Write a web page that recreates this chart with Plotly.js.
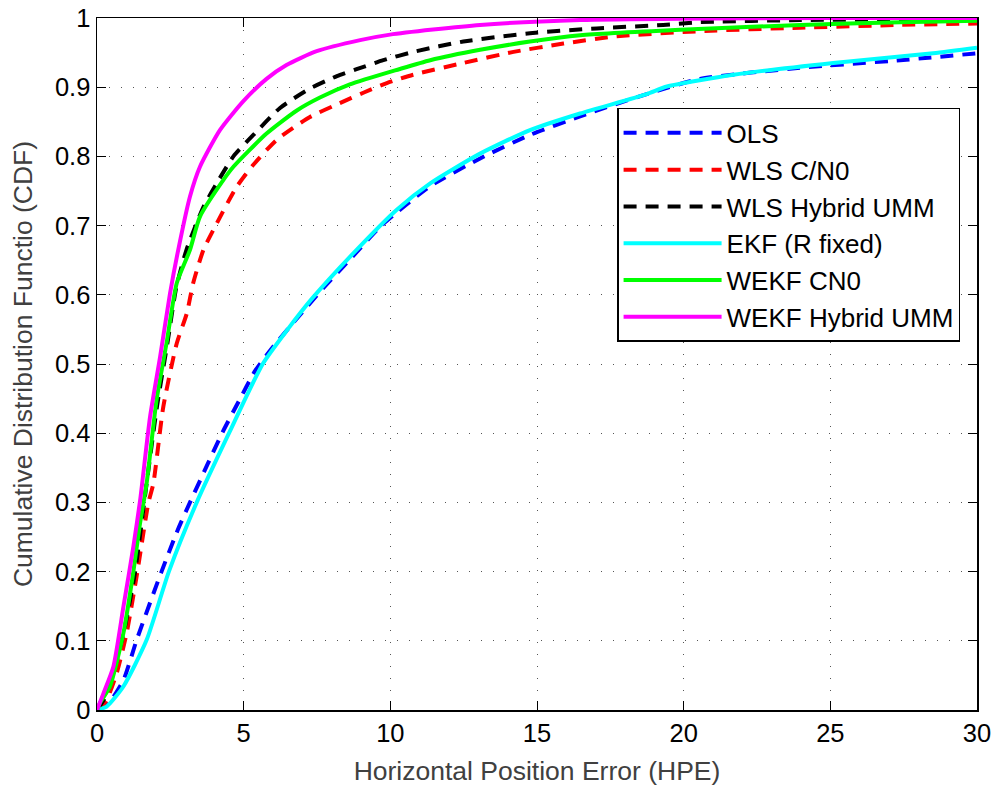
<!DOCTYPE html>
<html>
<head>
<meta charset="utf-8">
<script src="https://cdn.plot.ly/plotly-3.0.1.min.js"></script>
<style>html,body{margin:0;padding:0;background:#fff;}#chart{width:995px;height:787px;}</style>
</head>
<body>
<div id="chart"></div>
<script>
// Series names
const names = ["OLS", "WLS C/N0", "WLS Hybrid UMM", "EKF (R fixed)", "WEKF CN0", "WEKF Hybrid UMM"];

// OLS
const olsX = [0,0.4,0.9,1.35,2.2,2.77,3.17,3.79,4.3,4.82,5.39,5.95,6.8,7.72,8.6,9.7,11.36,13.06,14.76,16.47,18.74,20.56,23.97,27.38,30];
const olsY = [0,0.01,0.043,0.101,0.2,0.262,0.3,0.357,0.403,0.445,0.49,0.522,0.565,0.61,0.65,0.7,0.757,0.797,0.831,0.858,0.89,0.912,0.928,0.939,0.949];

// WLS C/N0
const wlsCnX = [0,0.3,0.67,1.01,1.35,1.75,1.92,2.26,2.72,3.06,3.28,3.63,4.08,4.76,5.33,6.13,7.26,8.28,9.08,9.88,10.78,12.49,14.2,15.9,17.6,20.56,23.97,27.38,30];
const wlsCnY = [0,0.012,0.053,0.111,0.193,0.299,0.327,0.438,0.53,0.573,0.617,0.665,0.703,0.756,0.788,0.824,0.857,0.877,0.892,0.906,0.918,0.935,0.951,0.963,0.973,0.981,0.986,0.99,0.992];

// WLS Hybrid UMM
const wlsHyX = [0,0.3,0.6,0.95,1.3,1.7,2.05,2.4,2.7,3.05,3.63,4.08,4.65,5.33,6.24,7.26,8.18,8.85,9.76,10.78,12.49,14.76,17.04,19.3,20.56,23.97,27.4,30];
const wlsHyY = [0,0.02,0.06,0.12,0.2,0.33,0.44,0.53,0.61,0.665,0.727,0.761,0.8,0.831,0.87,0.898,0.916,0.926,0.939,0.951,0.966,0.978,0.985,0.99,0.994,0.997,0.998,0.999];

// EKF (R fixed)
const ekfX = [0,0.33,0.9,1.69,2.45,3.4,4.5,5.65,6.5,7.3,8.85,10.22,11.36,13.06,14.76,16.47,18.74,19.43,21.7,25.1,28.5,30];
const ekfY = [0,0.005,0.034,0.101,0.2,0.3,0.4,0.5,0.55,0.593,0.665,0.723,0.761,0.804,0.838,0.862,0.89,0.901,0.918,0.935,0.949,0.957];

// WEKF CN0
const wekfCnX = [0,0.1,0.44,0.9,1.24,1.45,1.69,2.03,2.37,2.72,3.17,3.51,4.31,4.65,5.78,6.8,7.6,8.62,10.3,11.36,13.06,14.76,16.47,19.88,23.97,27.38,30];
const wekfCnY = [0,0.01,0.034,0.111,0.2,0.265,0.327,0.448,0.53,0.617,0.665,0.713,0.766,0.785,0.833,0.866,0.885,0.904,0.926,0.939,0.954,0.966,0.975,0.983,0.99,0.994,0.996];

// WEKF Hybrid UMM
const wekfHyX = [0,0.22,0.56,0.9,1.24,1.47,1.81,2.15,2.49,2.77,3.17,3.51,4.19,4.99,5.78,6.46,7.49,8.97,9.99,13.06,16.47,19.88,25,30];
const wekfHyY = [0,0.024,0.063,0.149,0.236,0.303,0.424,0.51,0.602,0.665,0.742,0.785,0.838,0.88,0.912,0.932,0.952,0.968,0.976,0.99,0.997,0.999,1,1];

const xTicks = [0,5,10,15,20,25,30];
const yTicks = [0,0.1,0.2,0.3,0.4,0.5,0.6,0.7,0.8,0.9,1];
const yTickText = ["0","0.1","0.2","0.3","0.4","0.5","0.6","0.7","0.8","0.9","1"];

const FONT = "Liberation Sans, Arial, Helvetica, sans-serif";
const dashPat = "13px,9px";
function tr(x, y, name, color, dash) {
  return {x: x, y: y, name: name, type: "scatter", mode: "lines",
          line: {color: color, width: 4, dash: dash, shape: "spline", smoothing: 0.6}};
}
const data = [
  tr(olsX, olsY, names[0], "#0000ff", dashPat),
  tr(wlsCnX, wlsCnY, names[1], "#ff0000", dashPat),
  tr(wlsHyX, wlsHyY, names[2], "#000000", dashPat),
  tr(ekfX, ekfY, names[3], "#00ffff", "solid"),
  tr(wekfCnX, wekfCnY, names[4], "#00ff00", "solid"),
  tr(wekfHyX, wekfHyY, names[5], "#ff00ff", "solid")
];

const axisCommon = {
  showline: true, linecolor: "#000", linewidth: 1.5, mirror: "allticks",
  ticks: "inside", ticklen: 9, tickwidth: 1, tickcolor: "#000",
  showgrid: true, gridcolor: "#555", gridwidth: 1, griddash: "1px,11px",
  zeroline: false,
  tickfont: {family: FONT, size: 25.5, color: "#000"}
};

const layout = {
  width: 995, height: 787,
  margin: {l: 97, r: 18, t: 18, b: 77},
  paper_bgcolor: "#fff", plot_bgcolor: "#fff",
  showlegend: true,
  xaxis: Object.assign({}, axisCommon, {
    range: [0, 30], tickvals: xTicks, ticktext: xTicks.map(String),
    title: {text: "Horizontal Position Error (HPE)", standoff: 15,
            font: {family: FONT, size: 26.5, color: "#404040"}}
  }),
  yaxis: Object.assign({}, axisCommon, {
    range: [0, 1], tickvals: yTicks, ticktext: yTickText,
    title: {text: "Cumulative Distribution Functio (CDF)", standoff: 14,
            font: {family: FONT, size: 26.5, color: "#404040"}}
  }),
  legend: {
    x: 0.591, y: 0.870, xanchor: "left", yanchor: "top",
    bgcolor: "#fff", bordercolor: "#000", borderwidth: 1.5,
    itemwidth: 98,
    font: {family: FONT, size: 26, color: "#000"}
  }
};

Plotly.newPlot("chart", data, layout, {displayModeBar: false, staticPlot: true});
</script>
</body>
</html>
